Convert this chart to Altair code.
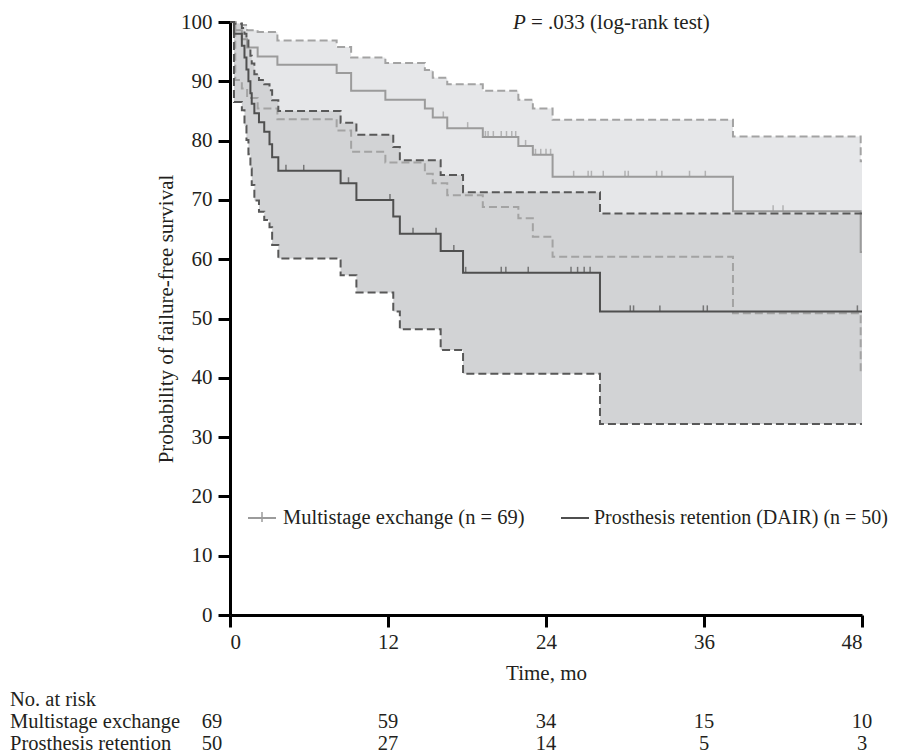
import altair as alt
import pandas as pd
import numpy as np

# ---------------- data ----------------
# Multistage exchange: event times (months), KM estimate and 95% CI (%)
ms_t  = [0, 0.4, 0.9, 1.3, 2.1, 3.6, 8.1, 9.2, 11.8, 14.8, 15.4, 16.5, 19.2, 21.9, 23.0, 24.5, 38.2, 47.9, 48]
ms_s  = [100, 98.6, 97.1, 95.7, 94.2, 92.8, 91.4, 88.4, 86.9, 85.4, 83.9, 82.1, 80.6, 79.1, 77.6, 73.9, 68.1, 61.2, 61.2]
ms_hi = [100, 99.8, 99.5, 98.6, 98.3, 96.9, 95.8, 94.0, 93.1, 91.9, 90.6, 89.5, 88.4, 86.9, 85.4, 83.5, 80.7, 76.5, 76.5]
ms_lo = [100, 90.2, 88.8, 87.2, 85.4, 83.6, 81.7, 78.1, 76.3, 74.4, 72.8, 70.8, 68.8, 66.9, 63.8, 60.4, 50.9, 40.8, 40.8]
ms_cens = [16.2, 18.05, 19.4, 19.6, 20.0, 20.6, 21.0, 21.4, 21.7, 22.45, 23.2, 23.6, 24.0, 24.35,
           26.1, 27.2, 27.45, 28.35, 30.0, 30.25, 32.4, 32.8, 34.9, 36.1, 41.25, 42.0]

# Prosthesis retention (DAIR)
da_t  = [0, 0.3, 0.9, 1.1, 1.25, 1.4, 1.55, 1.65, 1.85, 2.2, 2.6, 3.0, 3.2, 3.67, 8.4, 9.6, 12.4, 12.9, 16.0, 17.7, 28.1, 48]
da_s  = [100, 98, 96, 94, 92, 90, 88, 86.2, 84.6, 83.1, 81.5, 79.4, 77.2, 74.9, 72.8, 70.0, 67.2, 64.3, 61.4, 57.7, 51.2, 51.2]
da_hi = [100, 99.7, 99.0, 98.0, 96.9, 95.6, 94.3, 93.0, 91.2, 90.2, 89.5, 88.5, 86.8, 85.0, 83.0, 81.0, 78.9, 76.7, 74.2, 71.3, 67.7, 67.7]
da_lo = [100, 86.5, 85.1, 82.5, 80.1, 77.7, 75.3, 72.5, 69.9, 68.0, 66.6, 65.4, 62.4, 60.1, 57.3, 54.4, 51.2, 48.2, 44.7, 40.7, 32.2, 32.2]
da_cens = [4.25, 5.6, 9.0, 12.15, 13.9, 15.65, 17.0, 17.9, 20.6, 20.95, 22.65, 25.9, 26.4, 26.9, 27.35,
           30.4, 30.65, 32.65, 35.95, 36.25, 47.65]

risk_times = [0, 12, 24, 36, 48]
ms_risk = [69, 59, 34, 15, 10]
da_risk = [50, 27, 14, 5, 3]

# ---------------- styling ----------------
FONT = "Liberation Serif"
TXT = "#231f20"
MS_LINE = "#9b9b9b"
MS_DASH = "#a3a3a3"
DA_LINE = "#4f4f4f"
DA_DASH = "#585858"
MS_BAND = "#e6e7e9"
DA_BAND = "#d2d3d5"
TBL = 20.5

ms = pd.DataFrame({"t": ms_t, "s": ms_s, "lo": ms_lo, "hi": ms_hi})
da = pd.DataFrame({"t": da_t, "s": da_s, "lo": da_lo, "hi": da_hi})


def cens_df(times, t, s):
    idx = np.searchsorted(np.array(t), np.array(times), side="right") - 1
    return pd.DataFrame({"t": times, "s": np.array(s)[idx]})


ms_c = cens_df(ms_cens, ms_t, ms_s)
da_c = cens_df(da_cens, da_t, da_s)

xaxis = alt.Axis(values=risk_times, title="Time, mo", labelPadding=4, titlePadding=10)
yaxis = alt.Axis(values=list(range(0, 101, 10)), title="Probability of failure-free survival",
                 labelPadding=6, titlePadding=4)
xsc = alt.Scale(domain=[0, 48], nice=False, zero=False)
ysc = alt.Scale(domain=[0, 100], nice=False)


def X():
    return alt.X("t:Q", scale=xsc, axis=xaxis)


def Y(f):
    return alt.Y(f"{f}:Q", scale=ysc, axis=yaxis)


def band(df, color):
    return alt.Chart(df).mark_area(interpolate="step-after", color=color, opacity=1).encode(
        x=X(), y=Y("lo"), y2="hi:Q")


def line(df, f, color, dash=None, width=2):
    kw = dict(interpolate="step-after", color=color, strokeWidth=width)
    if dash:
        kw["strokeDash"] = dash
    return alt.Chart(df).mark_line(**kw).encode(x=X(), y=Y(f))


def ticks(df, color):
    return alt.Chart(df).mark_tick(orient="vertical", size=6, thickness=1.5, color=color,
                                   yOffset=-3).encode(x=X(), y=Y("s"))


layers = [
    band(ms, MS_BAND),
    band(da, DA_BAND),
    line(ms, "hi", MS_DASH, [8, 4]),
    line(ms, "lo", MS_DASH, [8, 4]),
    line(ms, "s", MS_LINE),
    line(da, "hi", DA_DASH, [8, 4]),
    line(da, "lo", DA_DASH, [8, 4]),
    line(da, "s", DA_LINE),
    ticks(ms_c, MS_LINE),
    ticks(da_c, DA_LINE),
]

# P value annotation
one = pd.DataFrame({"a": [0]})
layers.append(alt.Chart(one).mark_text(text="P", font=FONT, fontSize=21, fontStyle="italic",
                                       align="left", baseline="middle", color=TXT)
              .encode(x=alt.value(283), y=alt.value(1)))
layers.append(alt.Chart(one).mark_text(text="= .033 (log-rank test)", font=FONT, fontSize=21,
                                       align="left", baseline="middle", color=TXT)
              .encode(x=alt.value(301), y=alt.value(1)))

# Legend (custom)
LEG_Y = 496
layers.append(alt.Chart(one).mark_rule(color=MS_LINE, strokeWidth=2)
              .encode(x=alt.value(18), x2=alt.value(46), y=alt.value(LEG_Y)))
layers.append(alt.Chart(one).mark_rule(color=MS_LINE, strokeWidth=1.5)
              .encode(x=alt.value(32), y=alt.value(LEG_Y - 6), y2=alt.value(LEG_Y + 4)))
layers.append(alt.Chart(one).mark_text(text="Multistage exchange (n = 69)", font=FONT, fontSize=20.5,
                                       align="left", baseline="middle", color=TXT)
              .encode(x=alt.value(53), y=alt.value(LEG_Y)))
layers.append(alt.Chart(one).mark_rule(color=DA_LINE, strokeWidth=2)
              .encode(x=alt.value(331), x2=alt.value(359), y=alt.value(LEG_Y)))
layers.append(alt.Chart(one).mark_text(text="Prosthesis retention (DAIR) (n = 50)", font=FONT,
                                       fontSize=20, align="left", baseline="middle", color=TXT)
              .encode(x=alt.value(364), y=alt.value(LEG_Y)))

# Number at risk table
ROW0, ROW1, ROW2 = 678, 700, 722
layers.append(alt.Chart(one).mark_text(text="No. at risk", font=FONT, fontSize=TBL, align="left",
                                       baseline="middle", color=TXT)
              .encode(x=alt.value(-220), y=alt.value(ROW0)))
layers.append(alt.Chart(one).mark_text(text="Multistage exchange", font=FONT, fontSize=TBL,
                                       align="left", baseline="middle", color=TXT)
              .encode(x=alt.value(-220), y=alt.value(ROW1)))
layers.append(alt.Chart(one).mark_text(text="Prosthesis retention", font=FONT, fontSize=TBL,
                                       align="left", baseline="middle", color=TXT)
              .encode(x=alt.value(-220), y=alt.value(ROW2)))

for vals, yy in [(ms_risk, ROW1), (da_risk, ROW2)]:
    rdf = pd.DataFrame({"t": risk_times, "n": vals})
    layers.append(alt.Chart(rdf[rdf.t == 0]).mark_text(font=FONT, fontSize=TBL, align="center",
                                                       baseline="middle", color=TXT, dx=-18)
                  .encode(x=X(), y=alt.value(yy), text="n:Q"))
    layers.append(alt.Chart(rdf[rdf.t > 0]).mark_text(font=FONT, fontSize=TBL, align="center",
                                                      baseline="middle", color=TXT)
                  .encode(x=X(), y=alt.value(yy), text="n:Q"))

chart = alt.layer(*layers).properties(
    width=632, height=593,
    padding={"left": 222, "top": 14, "right": 35, "bottom": 140},
    autosize=alt.AutoSizeParams(type="none"),
).configure_axis(
    grid=False, domainColor="black", domainWidth=3, tickColor="black", tickWidth=3, tickSize=12,
    labelFont=FONT, labelFontSize=21, labelColor=TXT,
    titleFont=FONT, titleFontSize=21, titleFontWeight="normal", titleColor=TXT,
).configure_view(stroke=None)

chart.save("out.html", embed_options={"renderer": "svg", "actions": False})
